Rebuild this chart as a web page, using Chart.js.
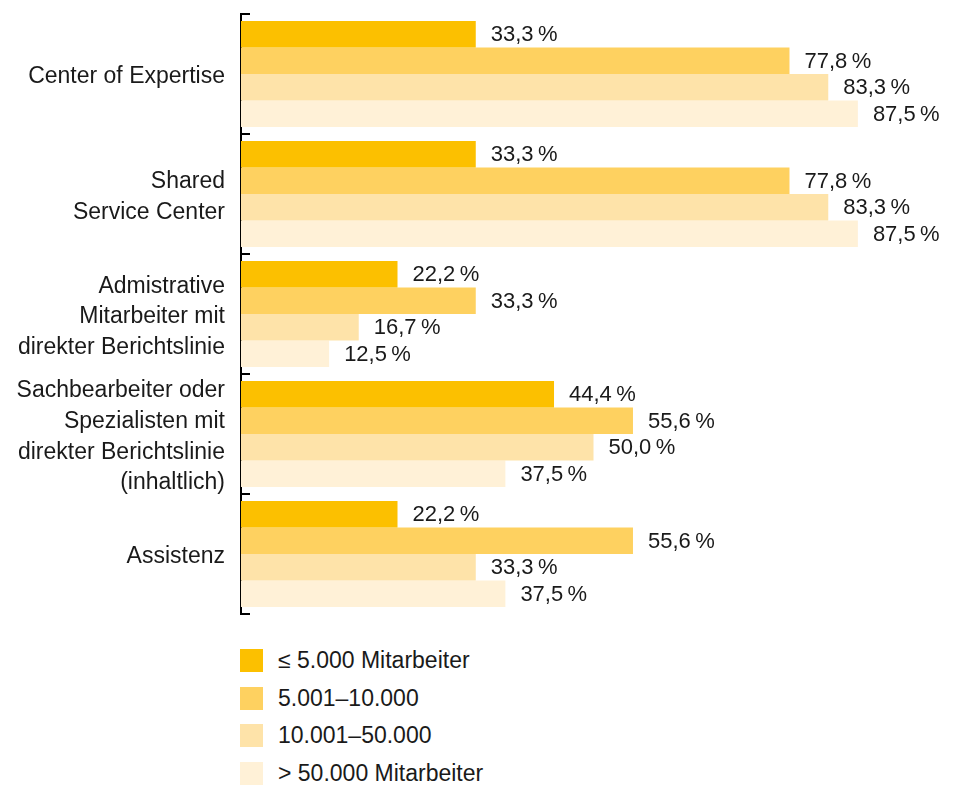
<!DOCTYPE html>
<html lang="de">
<head>
<meta charset="utf-8">
<title>Organisationsformen nach Unternehmensgröße</title>
<script src="https://cdn.jsdelivr.net/npm/chart.js@4/dist/chart.umd.min.js"></script>
<style>
  html, body { margin: 0; padding: 0; background: #fff; }
  body { width: 956px; height: 786px; position: relative; overflow: hidden; font-family: "Liberation Sans", Arial, sans-serif; color: #1a1a1a; }
  #wrap { position: absolute; left: 0; top: 0; width: 956px; height: 640px; }
  #legend { position: absolute; left: 240px; top: 649px; }
  .item { display: flex; align-items: center; height: 23px; margin-bottom: 14.6px; font-size: 23px; }
  .box { width: 23px; height: 23px; margin-right: 15px; }
</style>
</head>
<body>
<div id="wrap"><canvas id="chart"></canvas></div>
<div id="legend"></div>

<script>
// Data
const categories = [
    'Center of Expertise',
    ['Shared', 'Service Center'],
    ['Admistrative', 'Mitarbeiter mit', 'direkter Berichtslinie'],
    ['Sachbearbeiter oder', 'Spezialisten mit', 'direkter Berichtslinie', '(inhaltlich)'],
    'Assistenz'
];
const seriesNames = ['≤ 5.000 Mitarbeiter', '5.001–10.000', '10.001–50.000', '> 50.000 Mitarbeiter'];
const upTo5000 = [33.3, 33.3, 22.2, 44.4, 22.2];
const upTo10000 = [77.8, 77.8, 33.3, 55.6, 55.6];
const upTo50000 = [83.3, 83.3, 16.7, 50.0, 33.3];
const over50000 = [87.5, 87.5, 12.5, 37.5, 37.5];

const colors = ['#fcc000', '#fed160', '#fee3a9', '#fff1d7'];
const FONT = '"Liberation Sans", Arial, sans-serif';

function fmt(v) {
    return v.toFixed(1).replace('.', ',') + '\u2009%';
}

// draws the value next to every bar
const valueLabels = {
    id: 'valueLabels',
    afterDatasetsDraw(chart) {
        const ctx = chart.ctx;
        ctx.save();
        ctx.font = '22px ' + FONT;
        ctx.fillStyle = '#1a1a1a';
        ctx.textBaseline = 'middle';
        chart.data.datasets.forEach((ds, i) => {
            chart.getDatasetMeta(i).data.forEach((bar, j) => {
                ctx.fillText(fmt(ds.data[j]), bar.x + 15, bar.y + 1);
            });
        });
        ctx.restore();
    }
};

document.addEventListener('DOMContentLoaded', () => {
    const values = [upTo5000, upTo10000, upTo50000, over50000];

    new Chart(document.getElementById('chart'), {
        type: 'bar',
        data: {
            labels: categories,
            datasets: values.map((d, i) => ({
                label: seriesNames[i],
                data: d,
                backgroundColor: colors[i],
                borderWidth: 0,
                categoryPercentage: 0.883,
                barPercentage: 1
            }))
        },
        options: {
            indexAxis: 'y',
            responsive: true,
            maintainAspectRatio: false,
            animation: false,
            layout: { padding: { top: 14, right: 10, bottom: 26, left: 0 } },
            plugins: {
                legend: { display: false },
                tooltip: { enabled: false }
            },
            scales: {
                x: { display: false, min: 0, max: 100 },
                y: {
                    border: { color: '#000', width: 2 },
                    grid: {
                        offset: true,
                        drawOnChartArea: false,
                        drawTicks: true,
                        tickLength: -9,
                        color: '#000',
                        lineWidth: 2
                    },
                    ticks: {
                        autoSkip: false,
                        color: '#1a1a1a',
                        padding: 25,
                        labelOffset: 3,
                        font: { family: FONT, size: 23, lineHeight: 1.33 }
                    },
                    afterFit(scale) {
                        scale.width = 241;
                        scale.paddingTop = 0;
                        scale.paddingBottom = 0;
                    }
                }
            }
        },
        plugins: [valueLabels]
    });

    // legend
    document.getElementById('legend').innerHTML = seriesNames.map((name, i) => `
        <div class="item"><span class="box" style="background:${colors[i]}"></span>${name}</div>
    `).join('');
});
</script>
</body>
</html>
